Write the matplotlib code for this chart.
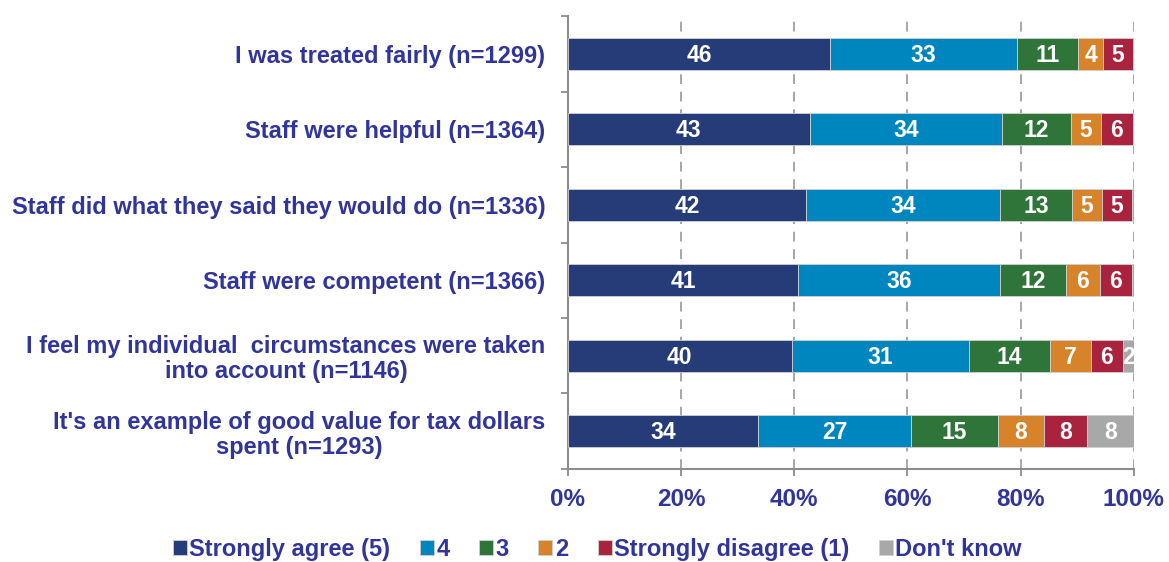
import numpy as np
import matplotlib.pyplot as plt

plt.rcParams['font.family'] = ['Liberation Sans', 'DejaVu Sans']
plt.rcParams['font.weight'] = 'bold'

statements = [
    "I was treated fairly (n=1299)",
    "Staff were helpful (n=1364)",
    "Staff did what they said they would do (n=1336)",
    "Staff were competent (n=1366)",
    "I feel my individual  circumstances were taken\ninto account (n=1146)",
    "It's an example of good value for tax dollars\nspent (n=1293)",
]

# percentages per answer
strongly_agree = [46.4, 42.8, 42.1, 40.7, 39.6, 33.7]
agree_4 = [32.9, 33.9, 34.3, 35.7, 31.2, 26.9]
neutral_3 = [10.9, 12.2, 12.7, 11.6, 14.3, 15.4]
disagree_2 = [4.4, 5.3, 5.2, 6.0, 7.3, 8.1]
strongly_disagree = [5.2, 5.6, 5.4, 5.6, 5.6, 7.7]
dont_know = [0.2, 0.2, 0.3, 0.4, 2.0, 8.2]

series_names = ['Strongly agree (5)', '4', '3', '2', 'Strongly disagree (1)', "Don't know"]
series = [strongly_agree, agree_4, neutral_3, disagree_2, strongly_disagree, dont_know]
colors = ['#263c78', '#0086bf', '#2f7438', '#d6832a', '#a9233e', '#a8a8a8']
text_blue = '#31359a'

fig = plt.figure(figsize=(11.69, 5.62), dpi=100)
ax = fig.add_axes([0.4856, 0.1655, 0.4844, 0.806])

y = np.arange(len(statements))
left = np.zeros(len(statements))
for name, vals, c in zip(series_names, series, colors):
    vals = np.array(vals)
    ax.barh(y, vals, left=left, height=0.42, color=c, edgecolor='#d0d0d0',
            linewidth=0.6, label=name, zorder=3)
    for yi, l, v in zip(y, left, vals):
        if v >= 1.5:
            ax.text(l + v / 2, yi + 0.02, f"{v:.0f}", ha='center', va='center',
                    color='white', fontsize=16.5, fontweight='bold', zorder=4)
    left += vals

ax.set_xlim(0, 100)
ax.set_ylim(len(statements) - 0.5, -0.5)

ax.set_xticks(np.arange(0, 101, 20))
ax.set_xticklabels([f"{t}%" for t in range(0, 101, 20)])
ax.tick_params(axis='x', direction='out', length=5, width=1.3, color='#8c8c8c',
               labelsize=17.5, labelcolor=text_blue, pad=9)
ax.xaxis.grid(True, linestyle=(0, (5, 4)), color='#a6a6a6', linewidth=1.4, zorder=0)

ax.set_yticks(np.arange(-0.5, len(statements)), minor=False)
ax.set_yticklabels([])
ax.set_yticks(y, minor=True)
ax.set_yticklabels(statements, minor=True)
ax.tick_params(axis='y', which='major', direction='out', length=5, width=1.3, color='#8c8c8c')
ax.tick_params(axis='y', which='minor', length=0, pad=16, labelsize=17, labelcolor=text_blue)
for lbl in ax.get_yticklabels(minor=True):
    lbl.set_multialignment('center')
    lbl.set_linespacing(1.1)

for s in ['top', 'right']:
    ax.spines[s].set_visible(False)
for s in ['left', 'bottom']:
    ax.spines[s].set_color('#8c8c8c')
    ax.spines[s].set_linewidth(1.5)

leg = fig.legend(loc='center', bbox_to_anchor=(0.511, 0.023), ncol=6, frameon=False,
                 handlelength=0.6, handleheight=0.6, handletextpad=0.1,
                 columnspacing=1.25, fontsize=17, borderaxespad=0)
for t in leg.get_texts():
    t.set_color(text_blue)
    t.set_fontweight('bold')

fig.savefig('out.png', dpi=100)
